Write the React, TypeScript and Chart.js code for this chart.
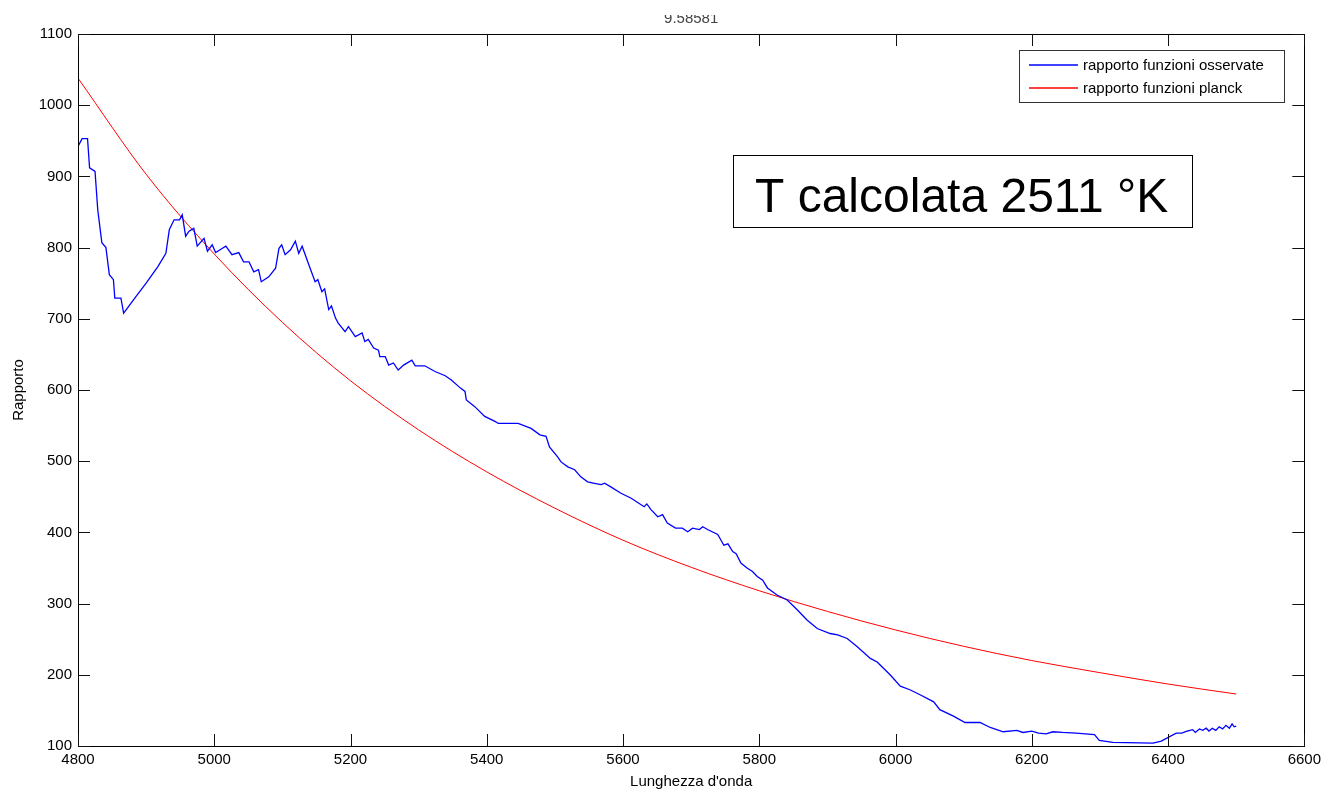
import React, { useEffect, useRef } from "react";
import { Chart, registerables } from "chart.js";

Chart.register(...registerables);

const titleText = "9.58581";
const xAxisTitle = "Lunghezza d'onda";
const yAxisTitle = "Rapporto";
const annotationText = "T calcolata 2511 °K";

const xTicks = [4800, 5000, 5200, 5400, 5600, 5800, 6000, 6200, 6400, 6600];
const yTicks = [100, 200, 300, 400, 500, 600, 700, 800, 900, 1000, 1100];

const observedLabel = "rapporto funzioni osservate";
const observedX = [
  4800, 4806, 4814, 4817, 4825, 4829, 4835, 4841, 4846, 4852, 4854, 4863, 4867, 4885, 4900, 4917, 4929, 4934, 4941, 4949,
  4953, 4958, 4963, 4970, 4975, 4985, 4990, 4997, 5002, 5012, 5017, 5026, 5036, 5043, 5051, 5058, 5065, 5069, 5080, 5090,
  5095, 5099, 5104, 5112, 5119, 5124, 5129, 5138, 5148, 5152, 5158, 5162, 5168, 5172, 5178, 5182, 5192, 5197, 5207, 5217, 5221, 5226, 5234,
  5241, 5243, 5251, 5256, 5263, 5270, 5278, 5290, 5295, 5309, 5324, 5339, 5348, 5361, 5368, 5370, 5382, 5397, 5412, 5417,
  5446, 5465, 5478, 5487, 5492, 5504, 5509, 5519, 5529, 5538, 5548, 5558, 5568, 5573, 5582, 5597, 5612, 5631, 5635, 5641,
  5651, 5658, 5665, 5677, 5687, 5695, 5702, 5712, 5717, 5724, 5739, 5748, 5754, 5761, 5766, 5773, 5782, 5790, 5797, 5805, 5812, 5826, 5841, 5856,
  5870, 5885, 5904, 5915, 5929, 5943, 5963, 5973, 5992, 6007, 6021, 6036, 6056, 6065, 6085, 6102, 6124, 6139, 6158, 6178, 6187,
  6200, 6210, 6221, 6231, 6245, 6265, 6292, 6299, 6319, 6378, 6390, 6412, 6420, 6428, 6436, 6440, 6446, 6451, 6456, 6460, 6465,
  6470, 6475, 6480, 6485, 6490, 6494, 6497, 6500,
];
const observedY = [
  942, 953, 953, 912, 907, 853, 807, 800, 762, 755, 729, 729, 708, 731, 750, 773, 792, 825, 839, 839,
  846, 816, 823, 827, 802, 813, 795, 804, 793, 799, 802, 790, 793, 780, 780, 766, 769, 752, 759, 771,
  799, 804, 790, 797, 809, 792, 802, 778, 752, 755, 738, 742, 713, 718, 701, 694, 682, 689, 675, 680, 668, 671, 659,
  656, 647, 647, 635, 638, 628, 635, 642, 634, 634, 626, 620, 614, 603, 598, 586, 577, 563, 556, 553,
  553, 546, 537, 535, 520, 506, 499, 492, 488, 478, 471, 469, 467, 469, 464, 455, 448, 436, 440, 432,
  422, 425, 413, 406, 406, 401, 406, 404, 408, 404, 397, 382, 384, 373, 370, 357, 350, 345, 338, 333, 322, 312, 305, 291,
  277, 265, 258, 256, 251, 240, 223, 218, 200, 184, 179, 172, 162, 151, 142, 133, 133, 126, 120, 122, 119,
  121, 118, 117, 120, 119, 118, 116, 108, 105, 104, 107, 118, 118, 121, 123, 119, 124, 122, 125, 121, 125,
  122, 127, 124, 129, 125, 131, 127, 128,
];

const planckLabel = "rapporto funzioni planck";
const planckX = [4800, 4900, 5000, 5100, 5200, 5300, 5400, 5500, 5600, 5700, 5800, 5900, 6000, 6100, 6200, 6300, 6400, 6500];
const planckY = [1038, 903, 791, 695, 613, 544, 485, 434, 389, 351, 318, 289, 263, 240, 220, 203, 187, 173];

const FONT = "'Liberation Sans', Arial, sans-serif";

const framePlugin = {
  id: "matlabFrame",
  afterDraw(chart: any) {
    const { ctx, chartArea, scales } = chart;
    const { left, right, top, bottom } = chartArea;
    ctx.save();
    // title (partially clipped at the top, as in the reference)
    ctx.save();
    ctx.beginPath();
    ctx.rect(0, 15, chart.width, 18);
    ctx.clip();
    ctx.fillStyle = "#444";
    ctx.font = `15px ${FONT}`;
    ctx.textAlign = "center";
    ctx.textBaseline = "alphabetic";
    ctx.fillText(titleText, (left + right) / 2, 23);
    ctx.restore();

    // box
    ctx.strokeStyle = "#000";
    ctx.lineWidth = 1;
    ctx.strokeRect(Math.round(left) + 0.5, Math.round(top) + 0.5, Math.round(right - left), Math.round(bottom - top));

    // inward ticks
    const tl = 12;
    ctx.strokeStyle = "#111";
    ctx.beginPath();
    xTicks.forEach((v) => {
      const px = Math.round(scales.x.getPixelForValue(v)) + 0.5;
      ctx.moveTo(px, bottom);
      ctx.lineTo(px, bottom - tl);
      ctx.moveTo(px, top);
      ctx.lineTo(px, top + tl);
    });
    yTicks.forEach((v) => {
      const py = Math.round(scales.y.getPixelForValue(v)) + 0.5;
      ctx.moveTo(left, py);
      ctx.lineTo(left + tl, py);
      ctx.moveTo(right, py);
      ctx.lineTo(right - tl, py);
    });
    ctx.stroke();

    // legend
    const lx = 1019.5, ly = 50.5, lw = 265, lh = 52;
    ctx.fillStyle = "#fff";
    ctx.fillRect(lx, ly, lw, lh);
    ctx.strokeStyle = "#333";
    ctx.strokeRect(lx, ly, lw, lh);
    ctx.font = `15px ${FONT}`;
    ctx.textAlign = "left";
    ctx.textBaseline = "middle";
    chart.data.datasets.forEach((ds: any, i: number) => {
      const cy = 65 + i * 23.3;
      ctx.strokeStyle = ds.borderColor;
      ctx.lineWidth = 1.3;
      ctx.beginPath();
      ctx.moveTo(1029, Math.round(cy));
      ctx.lineTo(1078, Math.round(cy));
      ctx.stroke();
      ctx.fillStyle = "#000";
      ctx.fillText(ds.label, 1083, cy + 1);
    });
    ctx.lineWidth = 1;

    // annotation box
    ctx.fillStyle = "#fff";
    ctx.fillRect(733.5, 155.5, 459, 72);
    ctx.strokeStyle = "#000";
    ctx.strokeRect(733.5, 155.5, 459, 72);
    ctx.fillStyle = "#000";
    ctx.font = `48px ${FONT}`;
    ctx.textBaseline = "alphabetic";
    ctx.fillText(annotationText, 755, 212);
    ctx.restore();
  },
};

export default function App() {
  const ref = useRef<HTMLCanvasElement | null>(null);
  useEffect(() => {
    if (!ref.current) return;
    const chart = new Chart(ref.current, {
      type: "line",
      data: {
        datasets: [
          {
            label: observedLabel,
            data: observedX.map((x, i) => ({ x, y: observedY[i] })),
            borderColor: "#0000ff",
            borderWidth: 1.3,
            pointRadius: 0,
            tension: 0,
            fill: false,
          },
          {
            label: planckLabel,
            data: planckX.map((x, i) => ({ x, y: planckY[i] })),
            borderColor: "#ff0000",
            borderWidth: 1,
            pointRadius: 0,
            cubicInterpolationMode: "monotone",
            fill: false,
          },
        ],
      },
      options: {
        responsive: false,
        animation: false,
        layout: { padding: { left: 0, right: 18, top: 34, bottom: 0 } },
        plugins: {
          legend: { display: false },
          title: { display: false },
          tooltip: { enabled: false },
        },
        scales: {
          x: {
            type: "linear",
            min: xTicks[0],
            max: xTicks[xTicks.length - 1],
            afterBuildTicks: (s: any) => {
              s.ticks = xTicks.map((v) => ({ value: v }));
            },
            afterFit: (s: any) => {
              s.height = 43;
            },
            grid: { display: false, drawTicks: false },
            border: { display: false },
            ticks: {
              padding: 5,
              color: "#000",
              font: { family: FONT, size: 15 },
              maxRotation: 0,
              autoSkip: false,
              callback: (v: any) => String(v),
            },
            title: {
              display: true,
              text: xAxisTitle,
              color: "#000",
              font: { family: FONT, size: 15, lineHeight: 1 },
              padding: { top: 0, bottom: 0 },
            },
          },
          y: {
            type: "linear",
            min: yTicks[0],
            max: yTicks[yTicks.length - 1],
            afterBuildTicks: (s: any) => {
              s.ticks = yTicks.map((v) => ({ value: v }));
            },
            afterFit: (s: any) => {
              s.width = 78;
            },
            grid: { display: false, drawTicks: false },
            border: { display: false },
            ticks: {
              padding: 6,
              color: "#000",
              font: { family: FONT, size: 15 },
              autoSkip: false,
              callback: (v: any) => String(v),
            },
            title: {
              display: true,
              text: yAxisTitle,
              color: "#000",
              font: { family: FONT, size: 15 },
              padding: { top: 10, bottom: 0 },
            },
          },
        },
      },
      plugins: [framePlugin],
    });
    return () => chart.destroy();
  }, []);
  return (
    <div style={{ position: "absolute", left: 0, top: 0, width: 1326, height: 789, background: "#fff" }}>
      <canvas ref={ref} width={1326} height={789} style={{ display: "block" }} />
    </div>
  );
}
